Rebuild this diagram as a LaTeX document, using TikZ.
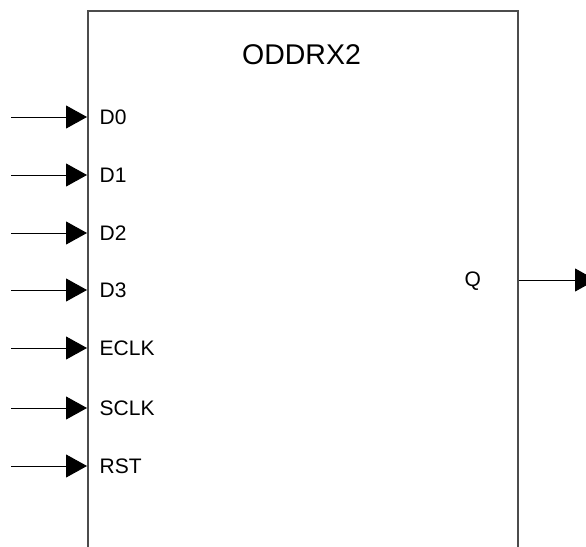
\documentclass[tikz,border=0pt]{standalone}
\usepackage{fontspec}
\setmainfont{Liberation Sans}
\usetikzlibrary{arrows.meta}
\begin{document}
\begin{tikzpicture}[x=1pt,y=-1pt,
  blk/.style={draw=black!70, line width=1.5pt, minimum width=430pt, minimum height=560pt, inner sep=0pt, outer sep=0pt},
  port/.style={anchor=west, font=\fontsize{21}{24}\selectfont, inner sep=0pt},
  sig/.style={draw=black, line width=0.9pt, -{Triangle[length=21pt,width=23pt]}},
  title/.style={font=\fontsize{28.5}{32}\selectfont, inner sep=0pt}]
\useasboundingbox (0,0) rectangle (586,546);
\node[blk] (box) at (303,291) {};
\node[title] (t) at (301.5,55) {ODDRX2};
\foreach \n/\y in {D0/117,D1/175,D2/233,D3/290,ECLK/348,SCLK/408,RST/466}{
  \coordinate (s\n) at (11,\y);
  \coordinate (e\n) at (87,\y);
  \node[port] (l\n) at (99.5,\y) {\n};
  \draw[sig] (s\n) -- (e\n);
}
\node[port] (lQ) at (464.5,281) {Q};
\coordinate (qs) at (518.5,280);
\coordinate (qe) at (596,280);
\draw[sig] (qs) -- (qe);
\end{tikzpicture}
\end{document}
